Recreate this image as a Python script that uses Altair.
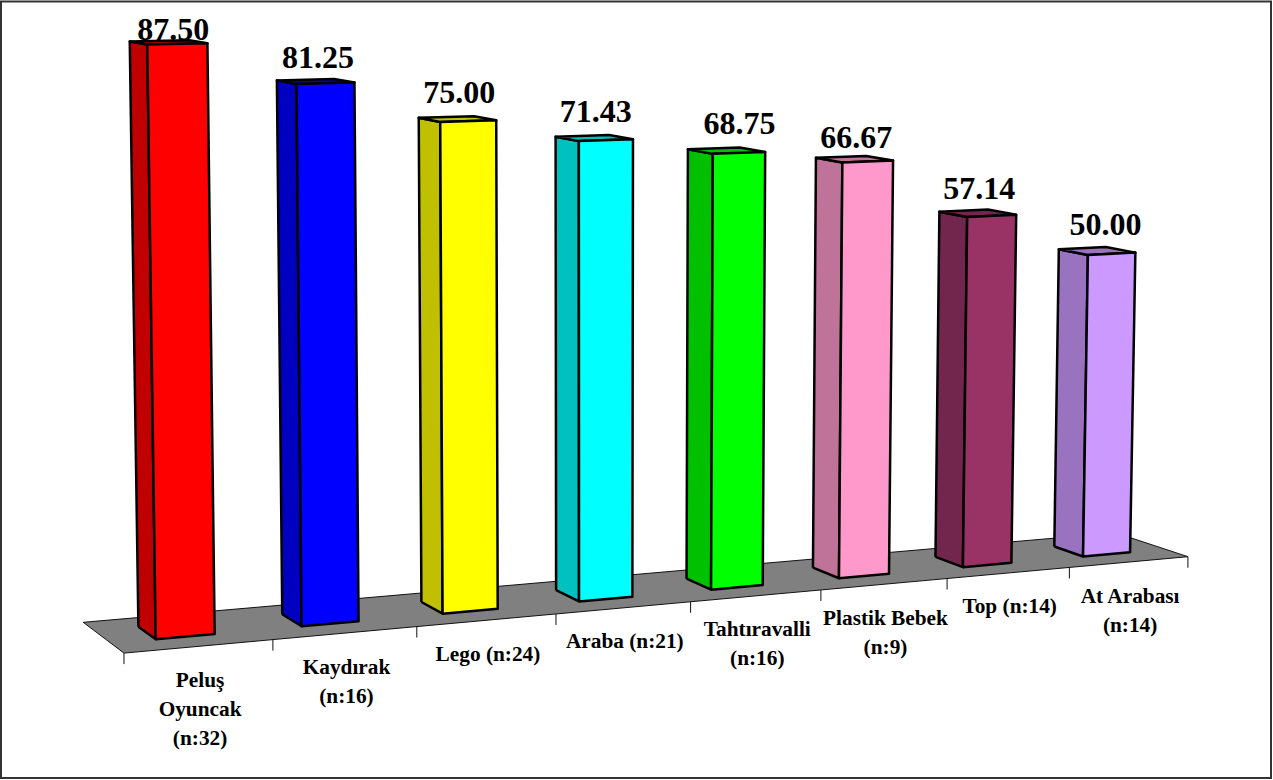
import altair as alt
import numpy as np
import pandas as pd

# Chart content
values = [87.50, 81.25, 75.00, 71.43, 68.75, 66.67, 57.14, 50.00]
category_lines = [
    ["Peluş", "Oyuncak", "(n:32)"],
    ["Kaydırak", "(n:16)"],
    ["Lego (n:24)"],
    ["Araba (n:21)"],
    ["Tahtıravalli", "(n:16)"],
    ["Plastik Bebek", "(n:9)"],
    ["Top (n:14)"],
    ["At Arabası", "(n:14)"],
]
front_colors = ["#FF0000", "#0000FF", "#FFFF00", "#00FFFF", "#00FF00", "#FF99CC", "#993366", "#CC99FF"]
shade_colors = ["#C00000", "#0000C0", "#C0C000", "#00C0C0", "#00C000", "#BF7399", "#73264D", "#9973BF"]

# Value-label nudges relative to the centre of each bar's top face
label_dx = [5, 2.5, 2, 1.5, 13, 2, 1.5, 8.5]
label_dy = [-2, -13, -16.5, -16, -17, -11, -14, -16]

W, H = 1273, 780
BAR_LEFT, BAR_RIGHT = 0.30, 0.70
BAR_FRONT, BAR_BACK = 0.31, 0.72

# Camera calibration: floor reference points as (u, d, page x, page y)
FLOOR_REFS = [
    (0, 0, 124, 652), (1, 0, 273, 640), (2, 0, 417, 627), (3, 0, 556, 614), (4, 0, 690, 602),
    (5, 0, 820, 590), (6, 0, 947, 579), (7, 0, 1069, 567), (8, 0, 1188, 556),
    (0, 1, 83, 622), (8, 1, 1114, 532),
    (0.3, BAR_FRONT, 156, 639), (7.3, BAR_FRONT, 1084, 557),
    (0.3, BAR_BACK, 138, 627), (3.3, BAR_BACK, 557, 591), (7.3, BAR_BACK, 1056, 547),
]
# Vertical reference points as (u, d, height, page x, page y)
HEIGHT_REFS = [
    (i + BAR_LEFT, BAR_FRONT, v, x, y)
    for i, (v, x, y) in enumerate([
        (87.50, 147, 44), (81.25, 297, 84), (75.00, 440, 122), (71.43, 579, 141),
        (68.75, 713, 154), (66.67, 842, 163), (57.14, 967, 217), (50.00, 1088, 255),
    ])
]


def fit_homography(refs):
    rows, rhs = [], []
    for u, d, x, y in refs:
        rows.append([u, d, 1, 0, 0, 0, -u * x, -d * x])
        rhs.append(x)
        rows.append([0, 0, 0, u, d, 1, -u * y, -d * y])
        rhs.append(y)
    h = np.linalg.lstsq(np.array(rows, float), np.array(rhs, float), rcond=None)[0]
    return np.append(h, 1.0).reshape(3, 3)


def fit_vertical(refs):
    rows, rhs = [], []
    for u, d, v, x, y in refs:
        x0, y0, w0 = HOMOGRAPHY @ np.array([u, d, 1.0])
        rows.append([v, 0, -v * x])
        rhs.append(x * w0 - x0)
        rows.append([0, v, -v * y])
        rhs.append(y * w0 - y0)
    return np.linalg.lstsq(np.array(rows), np.array(rhs), rcond=None)[0]


HOMOGRAPHY = fit_homography(FLOOR_REFS)
VERTICAL = fit_vertical(HEIGHT_REFS)


def project(u, d, v=0.0):
    p = HOMOGRAPHY @ np.array([u, d, 1.0]) + VERTICAL * v
    return p[0] / p[2], p[1] / p[2]


def polygon(face_id, fill, points):
    closed = list(points) + [points[0]]
    return [
        {"face": face_id, "fill": fill, "step": k, "px": project(*pt)[0], "py": project(*pt)[1]}
        for k, pt in enumerate(closed)
    ]


# Floor, ticks, bar faces and labels, all projected from the values above
floor_rows = polygon("floor", "#808080", [(0, 0), (8, 0), (8, 1), (0, 1)])

tick_rows = []
for i in range(9):
    tx, ty = project(i, 0)
    tick_rows.append({"px": tx, "py": ty, "py2": ty + 11})

face_rows, value_rows, category_rows = [], [], []
for i, v in enumerate(values):
    u0, u1 = i + BAR_LEFT, i + BAR_RIGHT
    d0, d1 = BAR_FRONT, BAR_BACK
    face_rows += polygon(f"side{i}", shade_colors[i], [(u0, d1, 0), (u0, d0, 0), (u0, d0, v), (u0, d1, v)])
    face_rows += polygon(f"top{i}", shade_colors[i], [(u0, d0, v), (u1, d0, v), (u1, d1, v), (u0, d1, v)])
    face_rows += polygon(f"front{i}", front_colors[i], [(u0, d0, 0), (u1, d0, 0), (u1, d0, v), (u0, d0, v)])

    corners = [project(u0, d0, v), project(u1, d0, v), project(u1, d1, v), project(u0, d1, v)]
    cx = sum(c[0] for c in corners) / 4
    cy = sum(c[1] for c in corners) / 4
    value_rows.append({"px": cx + label_dx[i], "py": cy + label_dy[i], "label": f"{v:.2f}"})

    mx, my = project(i + 0.5, 0)
    for k, line in enumerate(category_lines[i]):
        category_rows.append({"px": mx + 1, "py": my + 40.5 + 29 * k, "label": line})

x_enc = alt.X("px:Q", axis=None, scale=alt.Scale(domain=[0, W], range=[0, W]))
y_enc = alt.Y("py:Q", axis=None, scale=alt.Scale(domain=[0, H], range=[0, H]))

floor = (
    alt.Chart(pd.DataFrame(floor_rows))
    .mark_line(filled=True, stroke="#111111", strokeWidth=1, strokeJoin="miter")
    .encode(x=x_enc, y=y_enc, order="step:Q", detail="face:N", fill=alt.Fill("fill:N", scale=None, legend=None))
)

ticks = (
    alt.Chart(pd.DataFrame(tick_rows))
    .mark_rule(stroke="#111111", strokeWidth=1)
    .encode(x=x_enc, y=y_enc, y2="py2:Q")
)

bars = (
    alt.Chart(pd.DataFrame(face_rows))
    .mark_line(filled=True, stroke="#000000", strokeWidth=2.5, strokeJoin="round")
    .encode(x=x_enc, y=y_enc, order="step:Q", detail="face:N", fill=alt.Fill("fill:N", scale=None, legend=None))
)

value_labels = (
    alt.Chart(pd.DataFrame(value_rows))
    .mark_text(font="Liberation Serif", fontWeight="bold", fontSize=32, align="center", baseline="alphabetic", color="#000000")
    .encode(x=x_enc, y=y_enc, text="label:N")
)

category_labels = (
    alt.Chart(pd.DataFrame(category_rows))
    .mark_text(font="Liberation Serif", fontWeight="bold", fontSize=21.3, align="center", baseline="alphabetic", color="#000000")
    .encode(x=x_enc, y=y_enc, text="label:N")
)

frame = (
    alt.Chart(pd.DataFrame({"n": [0]}))
    .mark_rect(fill="#FFFFFF", stroke="#333333", strokeWidth=2)
    .encode(x=alt.value(1), x2=alt.value(1271), y=alt.value(1.5), y2=alt.value(778))
)

chart = (
    alt.layer(frame, floor, ticks, bars, value_labels, category_labels)
    .properties(width=W, height=H, padding=0, autosize=alt.AutoSizeParams(type="none"), background="#FFFFFF")
    .configure_view(stroke=None)
)

chart.save("out.html", embed_options={"renderer": "svg", "actions": False})
